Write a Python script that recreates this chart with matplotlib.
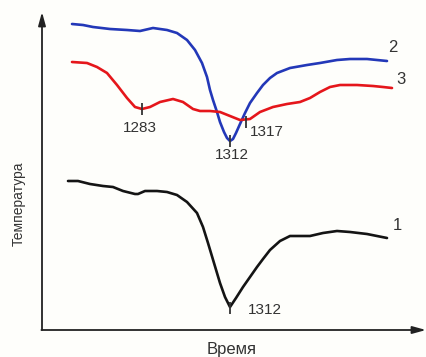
import matplotlib
matplotlib.use("Agg")
import matplotlib.pyplot as plt

plt.rcParams['font.family'] = ['Liberation Sans', 'DejaVu Sans']

# Cooling curves: time (arbitrary units) and temperature (arbitrary units)
time_1 = [68, 78, 90, 103, 113, 123, 135, 138, 145, 157, 167, 177, 187, 197, 203,
          208, 214, 220, 225, 230, 236, 243, 250, 257, 263, 270, 280, 290, 310, 323,
          337, 350, 367, 387]
temp_1 = [176, 176, 173, 171, 170, 166, 163, 163, 166, 166, 165, 162, 155, 144, 130,
          114, 94, 74, 60, 50, 59, 70, 80, 90, 98, 107, 116, 121, 121, 124,
          126, 125, 123, 119]

time_2 = [72, 83, 93, 110, 127, 140, 153, 167, 177, 187, 195, 202, 207, 210, 213,
          217, 220, 224, 227, 230, 233, 236, 240, 245, 250, 257, 263, 270, 277, 290,
          307, 320, 337, 350, 367, 387]
temp_2 = [333, 332, 330, 328, 327, 326, 329, 327, 324, 317, 307, 294, 280, 267, 257,
          245, 235, 225, 219, 216, 218, 224, 233, 244, 254, 264, 272, 279, 284, 289,
          292, 294, 297, 298, 298, 296]

time_3 = [72, 87, 97, 107, 117, 127, 135, 142, 150, 160, 173, 183, 193, 200, 210,
          220, 230, 240, 250, 260, 273, 287, 300, 310, 320, 330, 340, 357, 373, 383, 392]
temp_3 = [295, 294, 290, 284, 272, 259, 250, 248, 250, 255, 258, 255, 248, 246, 246,
          245, 241, 237, 238, 245, 250, 253, 255, 259, 265, 270, 272, 272, 271, 270, 269]

# Marked points with their temperature labels
mark_t = [230, 230, 142, 246]
mark_T = [49, 216, 248, 235]
mark_text = ['1312', '1312', '1283', '1317']
mark_text_xy = [(265, 47), (232, 202), (140, 229), (267, 225)]

curve_names = ['1', '2', '3']
curve_name_xy = [(397, 132), (393, 309), (401, 278)]

colors = ['#141414', '#2338b8', '#e5161b']
ink = '#333333'

fig = plt.figure(figsize=(4.26, 3.57), dpi=100, facecolor='#fefefb')
ax = fig.add_axes([0, 0, 1, 1])
ax.set_xlim(0, 426)
ax.set_ylim(0, 357)
ax.axis('off')

# Axes drawn as arrows
arrow = dict(arrowstyle='-|>,head_length=0.8,head_width=0.22', color='#222222',
             lw=1.3, shrinkA=0, shrinkB=0)
ax.annotate('', xy=(42, 345), xytext=(42, 27), arrowprops=arrow)
ax.annotate('', xy=(426, 27), xytext=(41.4, 27), arrowprops=arrow)

ax.text(19, 153, 'Температура', rotation=90, ha='center', va='center',
        fontsize=10, color=ink)
ax.text(232, 0, 'Время', ha='center', va='bottom', fontsize=12, color=ink)

for t, T, c in zip([time_1, time_2, time_3], [temp_1, temp_2, temp_3], colors):
    ax.plot(t, T, color=c, lw=1.9, solid_joinstyle='round', solid_capstyle='round')

for t, T in zip(mark_t, mark_T):
    ax.plot([t], [T], marker='|', markersize=8, mew=1.3, color=ink)

for s, (x, y) in zip(mark_text, mark_text_xy):
    ax.text(x, y, s, ha='center', va='center', fontsize=11, color=ink)

for s, (x, y) in zip(curve_names, curve_name_xy):
    ax.text(x, y, s, ha='center', va='center', fontsize=12, color=ink)

fig.savefig('out.png', dpi=100, facecolor=fig.get_facecolor())
